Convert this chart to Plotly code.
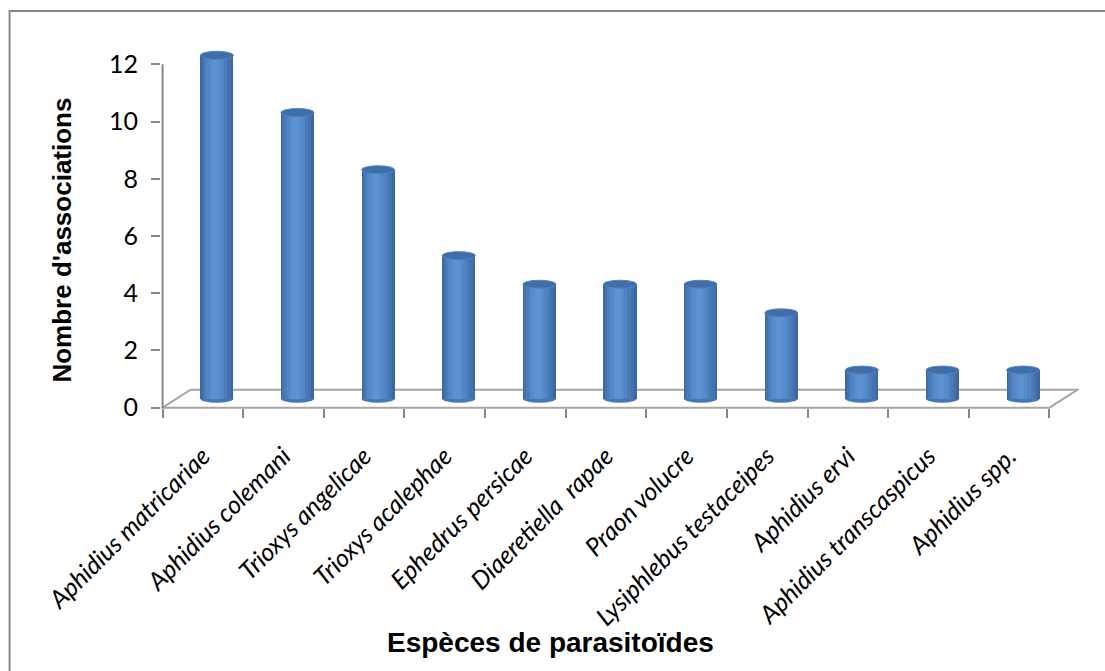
import plotly.graph_objects as go

# ---------------- data ----------------
categories = [
    "Aphidius matricariae", "Aphidius colemani", "Trioxys angelicae",
    "Trioxys acalephae", "Ephedrus persicae", "Diaeretiella  rapae",
    "Praon volucre", "Lysiphlebus testaceipes", "Aphidius ervi",
    "Aphidius transcaspicus", "Aphidius spp.",
]
values = [12, 10, 8, 5, 4, 4, 4, 3, 1, 1, 1]
y_ticks = [0, 2, 4, 6, 8, 10, 12]

# ---------------- geometry / style ----------------
W, H = 1105, 671
n = len(categories)
depth_x = 0.347      # floor depth, category units
depth_y = 0.628      # floor depth, value units
hx, hy = depth_x / 2, depth_y / 2
cyl_w = 0.41
ry = 0.14
x_range = [-0.52, n - 0.5 + depth_x + 0.02]
y_range = [-0.15, 12.5]

m_l, m_r, m_t, m_b = 161.4, 1105 - 161.4 - 80.6 * (x_range[1] - x_range[0]), 50, 259
pw = W - m_l - m_r
ph = H - m_t - m_b

def px_x(px):
    return (px - m_l) / pw

def px_y(py):
    return (H - m_b - py) / ph

grey = "#878787"
floor_col = "#A6A6A6"
label_font = "Lato"
title_font = "Liberation Sans"

fig = go.Figure()

xs = [i + hx for i in range(n)]
bases = [hy] * n

# gradient layers (width fraction, shift fraction, colour)
layers = [
    (1.00, 0.00, "#3B68A2"),
    (0.88, -0.02, "#4372AF"),
    (0.72, -0.04, "#4B7CBA"),
    (0.55, -0.05, "#5185C4"),
    (0.38, -0.06, "#578CCC"),
    (0.20, -0.06, "#5D92D2"),
]
for wf, sh, col in layers:
    w = wf * cyl_w
    fig.add_trace(go.Bar(
        x=xs, y=values, base=bases,
        width=[w] * n, offset=[-w / 2 + sh * cyl_w] * n,
        marker=dict(color=col, line=dict(width=0)),
        hoverinfo="skip", showlegend=False,
    ))

shapes = []
# floor
x0f, x1f = -0.5, n - 0.5
shapes.append(dict(
    type="path", xref="x", yref="y", layer="below",
    path=f"M {x0f},0 L {x1f},0 L {x1f + depth_x},{depth_y} L {x0f + depth_x},{depth_y} Z",
    line=dict(color=floor_col, width=2), fillcolor="rgba(0,0,0,0)",
))
# y axis line
shapes.append(dict(type="line", xref="x", yref="y", layer="below",
                   x0=-0.5, x1=-0.5, y0=0, y1=max(y_ticks),
                   line=dict(color=grey, width=2)))
for i, v in enumerate(values):
    cx = xs[i]
    # bottom ellipse
    shapes.append(dict(type="circle", xref="x", yref="y", layer="below",
                       x0=cx - cyl_w / 2, x1=cx + cyl_w / 2,
                       y0=hy - ry, y1=hy + ry,
                       fillcolor="#4677B4", line=dict(width=0)))
    # top ellipse
    top = v + hy
    shapes.append(dict(type="circle", xref="x", yref="y", layer="above",
                       x0=cx - cyl_w / 2, x1=cx + cyl_w / 2,
                       y0=top - ry, y1=top + ry,
                       fillcolor="#406EA9", line=dict(color="#5082C1", width=1)))

# outer chart border
shapes.append(dict(type="rect", xref="paper", yref="paper",
                   x0=px_x(10), x1=px_x(1120), y0=px_y(690), y1=px_y(11),
                   line=dict(color=grey, width=2), fillcolor="rgba(0,0,0,0)"))

annotations = [
    dict(text="<b>Nombre d'associations</b>", xref="paper", yref="paper",
         x=px_x(62), y=px_y(240), textangle=-90, showarrow=False,
         xanchor="center", yanchor="middle",
         font=dict(family=title_font, size=26, color="black")),
    dict(text="<b>Espèces de parasitoïdes</b>", xref="paper", yref="paper",
         x=px_x(551), y=px_y(642), showarrow=False,
         xanchor="center", yanchor="middle",
         font=dict(family=title_font, size=28, color="black")),
]

fig.update_layout(
    width=W, height=H,
    margin=dict(l=m_l, r=m_r, t=m_t, b=m_b, pad=0),
    paper_bgcolor="white", plot_bgcolor="white",
    barmode="overlay", bargap=0,
    showlegend=False,
    shapes=shapes, annotations=annotations,
    xaxis=dict(
        range=x_range, tickmode="array", tickvals=list(range(n)),
        ticktext=categories, tickangle=-45, ticks="",
        tickfont=dict(family=label_font, size=25, color="black", style="italic"),
        ticklabelstandoff=28,
        showgrid=False, zeroline=False, showline=False,
        anchor="free", position=(0 - y_range[0]) / (y_range[1] - y_range[0]),
        minor=dict(ticks="outside", tickmode="linear", tick0=-0.5, dtick=1,
                   ticklen=9, tickwidth=2, tickcolor=grey, showgrid=False),
        fixedrange=True,
    ),
    yaxis=dict(
        range=y_range, tickmode="array", tickvals=y_ticks,
        ticks="outside", ticklen=9, tickwidth=2, tickcolor=grey,
        tickfont=dict(family=label_font, size=25, color="black"),
        ticklabelstandoff=8,
        showgrid=False, zeroline=False, showline=False,
        fixedrange=True,
    ),
)

fig.write_html("out.html")
